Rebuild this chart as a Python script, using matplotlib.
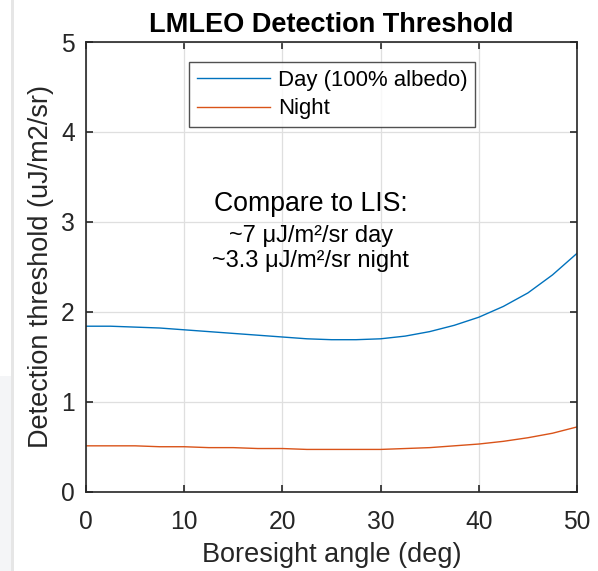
import matplotlib
matplotlib.use("Agg")
import matplotlib.pyplot as plt
from matplotlib.patches import Rectangle

angle = [0, 2.5, 5, 7.5, 10, 12.5, 15, 17.5, 20, 22.5, 25, 27.5, 30, 32.5, 35, 37.5, 40, 42.5, 45, 47.5, 50]
day = [1.84, 1.84, 1.83, 1.82, 1.80, 1.78, 1.76, 1.74, 1.72, 1.70, 1.69, 1.69, 1.70, 1.73, 1.78, 1.85, 1.94, 2.06, 2.21, 2.41, 2.65]
night = [0.51, 0.51, 0.51, 0.50, 0.50, 0.49, 0.49, 0.48, 0.48, 0.47, 0.47, 0.47, 0.47, 0.48, 0.49, 0.51, 0.53, 0.56, 0.60, 0.65, 0.72]
xticks = [0, 10, 20, 30, 40, 50]
yticks = [0, 1, 2, 3, 4, 5]
labels = ["Day (100% albedo)", "Night"]
note_lines = ["Compare to LIS:", "~7 μJ/m²/sr day", "~3.3 μJ/m²/sr night"]

plt.rcParams['font.family'] = ['Liberation Sans', 'DejaVu Sans']
W, H = 598, 571
fig = plt.figure(figsize=(W / 100, H / 100), dpi=100)
fig.patch.set_facecolor('white')

# screenshot artefacts on the left edge
fig.patches.append(Rectangle((0, 0), 11 / W, (H - 376) / H, transform=fig.transFigure,
                             facecolor='#f4f5f7', edgecolor='none', zorder=0))
fig.patches.append(Rectangle((11 / W, 0), 3 / W, 1, transform=fig.transFigure,
                             facecolor='#e6e6e6', edgecolor='none', zorder=0))

ax = fig.add_axes([86 / W, (H - 491.7) / H, 491 / W, 449.7 / H])
dark = '#262626'
ax.plot(angle, day, color='#0072BD', lw=1.0, label=labels[0])
ax.plot(angle, night, color='#D95319', lw=1.0, label=labels[1])
ax.set_xlim(0, 50)
ax.set_ylim(0, 5)
ax.set_xticks(xticks)
ax.set_yticks(yticks)
ax.grid(True, color='#dfdfdf', lw=0.9)
ax.set_axisbelow(True)
ax.tick_params(direction='in', top=True, right=True, length=5, width=1.2,
               colors=dark, labelsize=17.7)
ax.tick_params(axis='x', pad=13)
ax.tick_params(axis='y', pad=8)
for s in ax.spines.values():
    s.set_color(dark)
    s.set_linewidth(1.2)
ax.set_xlabel("Boresight angle (deg)", fontsize=19.5, color=dark, labelpad=6)
ax.set_ylabel("Detection threshold (uJ/m2/sr)", fontsize=19.5, color=dark, labelpad=5)
ax.set_title("LMLEO Detection Threshold", fontsize=19.5, fontweight='bold', color='black', pad=7)

leg = ax.legend(loc='upper left', bbox_to_anchor=((189 - 86) / 491, 1 - (62 - 42) / 449.7),
                fontsize=15.9, frameon=True, fancybox=False, edgecolor=dark,
                handlelength=3.33, handletextpad=0.35, borderpad=0.35, labelspacing=0.34,
                borderaxespad=0)
leg.get_frame().set_linewidth(1.0)
for t in leg.get_texts():
    t.set_color('black')

ax.text(22.9, (491.7 - 204) / 90, note_lines[0], ha='center', va='center', fontsize=19.2, color='black')
ax.text(22.9, (491.7 - 236) / 90, note_lines[1], ha='center', va='center', fontsize=17, color='black')
ax.text(22.9, (491.7 - 261) / 90, note_lines[2], ha='center', va='center', fontsize=17, color='black')

fig.savefig("out.png", dpi=100)
